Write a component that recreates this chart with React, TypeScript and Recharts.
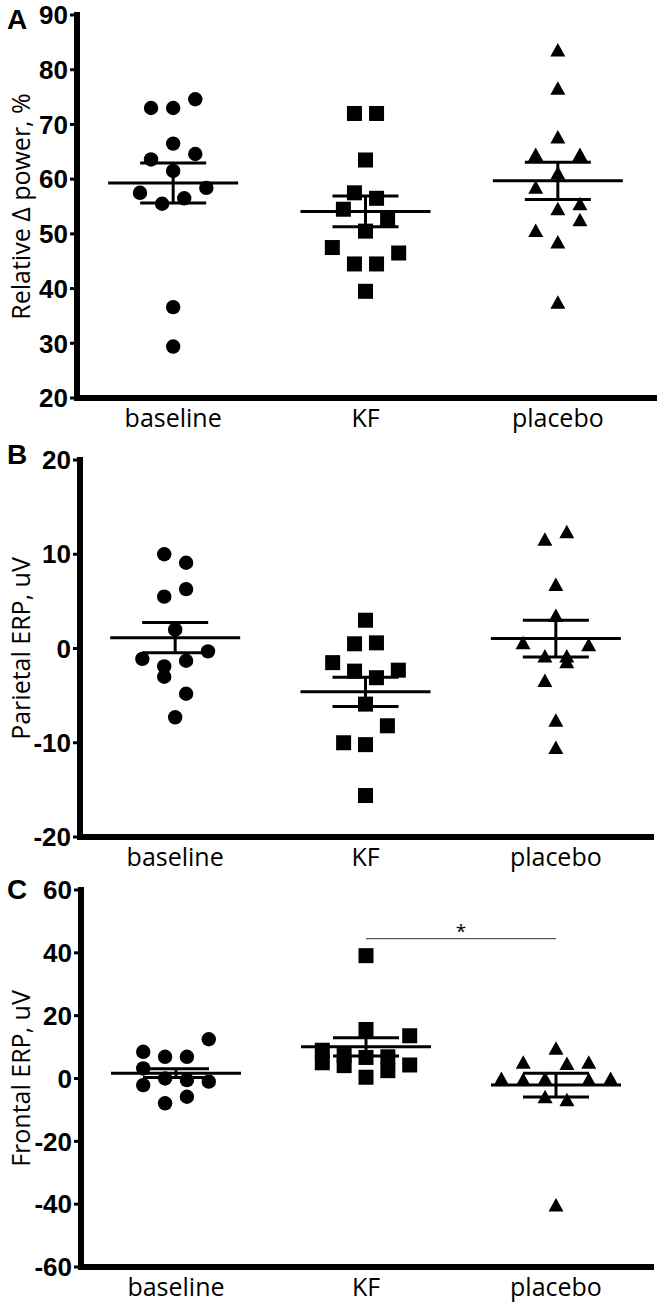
import React from 'react'
import { ScatterChart, Scatter, XAxis, YAxis, ErrorBar, ReferenceLine, ReferenceDot } from 'recharts'

const categories = ['baseline', 'KF', 'placebo']

// A: relative delta power, %
const powerBaseline = [73, 73, 74.6, 66.5, 63.6, 64.6, 61.5, 57.5, 58.4, 55.5, 56.5, 36.6, 29.4]
const powerBaselineCol = [-2, 0, 2, 0, -2, 2, 0, -3, 3, -1, 1, 0, 0]
const powerKF = [72, 72, 63.5, 57.5, 56.5, 54.5, 52.5, 50.5, 47.5, 46.5, 44.5, 44.5, 39.5]
const powerKFCol = [-1, 1, 0, -1, 1, -2, 2, 0, -3, 3, -1, 1, 0]
const powerPlacebo = [83.6, 76.6, 67.7, 64.5, 64.5, 61.1, 58.5, 55.5, 54.6, 52.6, 50.6, 48.5, 37.5]
const powerPlaceboCol = [0, 0, 0, -2, 2, 0, -2, 2, 0, 2, -2, 0, 0]
const powerMean = [59.3, 54.1, 59.7]
const powerSem = [3.65, 2.8, 3.4]
const powerTicks = [20, 30, 40, 50, 60, 70, 80, 90]

// B: parietal ERP, uV
const parietalBaseline = [10.0, 9.1, 6.3, 5.5, 2.0, -0.3, -1.1, -1.3, -1.9, -3.0, -4.8, -7.3]
const parietalBaselineCol = [-1, 1, 1, -1, 0, 3, -3, 1, -1, -1, 1, 0]
const parietalKF = [3.0, 0.5, 0.6, -1.5, -2.4, -2.3, -3.1, -5.9, -8.2, -10.0, -10.2, -15.6]
const parietalKFCol = [0, -1, 1, -3, -1, 3, 1, 0, 2, -2, 0, 0]
const parietalPlacebo = [12.4, 11.6, 6.8, 3.5, 0.6, 0.4, -0.8, -0.8, -1.4, -3.4, -7.6, -10.5]
const parietalPlaceboCol = [1, -1, 0, 0, -3, 3, -1, 1, 1, -1, 0, 0]
const parietalMean = [1.15, -4.6, 1.05]
const parietalSem = [1.6, 1.55, 1.95]
const parietalTicks = [-20, -10, 0, 10, 20]

// C: frontal ERP, uV
const frontalBaseline = [12.5, 8.5, 6.9, 6.9, 3.2, 0.0, -0.5, -1.0, -2.1, -5.8, -7.9]
const frontalBaselineCol = [3, -3, -1, 1, -3, -1, 1, 3, -3, 1, -1]
const frontalKF = [39.1, 15.6, 13.6, 9, 7.3, 6.9, 6.7, 5, 4.3, 4.1, 2.5, 0.4]
const frontalKFCol = [0, 0, 4, -4, -2, 2, 0, -4, 4, -2, 2, 0]
const frontalPlacebo = [9.6, 5.2, 4.8, 5.2, 0.0, -0.3, 0.0, -0.3, 0.0, -5.8, -6.8, -40.3]
const frontalPlaceboCol = [0, -3, 1, 3, -5, -3, -1, 3, 5, -1, 1, 0]
const frontalMean = [1.7, 10.1, -2.1]
const frontalSem = [1.4, 2.9, 3.8]
const frontalTicks = [-60, -40, -20, 0, 20, 40, 60]
const frontalSigLevel = 44.5

const SLOT = 0.0575 // width of one scatter column, in category units

const Dot = (p: any) => <circle cx={p.cx} cy={p.cy} r={7.2} fill="#000" />
const Square = (p: any) => <rect x={p.cx - 7.5} y={p.cy - 7.5} width={15} height={15} fill="#000" />
const Tri = (p: any) => (
  <polygon points={`${p.cx},${p.cy - 7} ${p.cx + 7.5},${p.cy + 6.5} ${p.cx - 7.5},${p.cy + 6.5}`} fill="#000" />
)
const MeanLine = (p: any) => (
  <line x1={p.cx - 65} x2={p.cx + 65} y1={p.cy} y2={p.cy} stroke="#000" strokeWidth={3} />
)
const shapes = [Dot, Square, Tri]

interface PanelProps {
  letter: string
  yLabel: string
  domain: [number, number]
  ticks: number[]
  groups: number[][]
  cols: number[][]
  means: number[]
  sems: number[]
  top: number
  height: number
  marginTop: number
  axisWidth: number
  rightPad: number
  xAxisHeight: number
  letterTop: number
  children?: React.ReactNode
}

function Panel({
  letter, yLabel, domain, ticks, groups, cols, means, sems,
  top, height, marginTop, axisWidth, rightPad, xAxisHeight, letterTop, children
}: PanelProps) {
  const summary = means.map((m, i) => ({ x: i + 0.5, y: m, err: sems[i] }))

  return (
    <div style={{ position: 'absolute', left: 0, top, width: 662, height }}>
      <div
        style={{
          position: 'absolute', left: 7, top: letterTop, fontFamily: 'Liberation Sans',
          fontWeight: 700, fontSize: 28, lineHeight: 1, color: '#000'
        }}
      >
        {letter}
      </div>
      <ScatterChart
        width={662}
        height={height}
        margin={{ top: marginTop, right: rightPad, bottom: 0, left: 0 }}
      >
        <XAxis
          type="number"
          dataKey="x"
          domain={[0, 3]}
          ticks={[0.5, 1.5, 2.5]}
          interval={0}
          height={xAxisHeight}
          tickFormatter={(v: number) => categories[Math.floor(v)]}
          axisLine={{ stroke: '#000', strokeWidth: 6, strokeLinecap: 'square' }}
          tickLine={false}
          tickSize={6}
          tickMargin={5}
          tick={{ fill: '#000', fontSize: 25, fontFamily: 'Open Sans' }}
        />
        <YAxis
          type="number"
          dataKey="y"
          domain={domain}
          ticks={ticks}
          interval={0}
          width={axisWidth}
          axisLine={{ stroke: '#000', strokeWidth: 6, strokeLinecap: 'square' }}
          tickLine={{ stroke: '#000', strokeWidth: 3 }}
          tickSize={7}
          tickMargin={2}
          tick={{ fill: '#000', fontSize: 26, fontWeight: 700, fontFamily: 'Liberation Sans' }}
          label={{
            content: (props: any) => {
              const vb = props.viewBox
              const cy = vb.y + vb.height / 2
              return (
                <text
                  x={30}
                  y={cy}
                  transform={`rotate(-90 30 ${cy})`}
                  textAnchor="middle"
                  fontSize={25}
                  fontFamily="Open Sans"
                  fill="#000"
                >
                  {yLabel}
                </text>
              )
            }
          }}
        />
        {groups.map((vals, i) => (
          <Scatter
            key={categories[i]}
            data={vals.map((v, k) => ({ x: i + 0.5 + cols[i][k] * SLOT, y: v }))}
            shape={shapes[i]}
            isAnimationActive={false}
          />
        ))}
        <Scatter data={summary} shape={MeanLine} isAnimationActive={false}>
          <ErrorBar dataKey="err" direction="y" width={33} stroke="#000" strokeWidth={3} />
        </Scatter>
        {children}
      </ScatterChart>
    </div>
  )
}

export default function App() {
  return (
    <div style={{ position: 'absolute', left: 0, top: 0, width: 662, height: 1308, background: '#fff' }}>
      <Panel
        letter="A"
        yLabel="Relative Δ power, %"
        domain={[20, 90]}
        ticks={powerTicks}
        groups={[powerBaseline, powerKF, powerPlacebo]}
        cols={[powerBaselineCol, powerKFCol, powerPlaceboCol]}
        means={powerMean}
        sems={powerSem}
        top={0}
        height={440}
        marginTop={15}
        axisWidth={77}
        rightPad={8}
        xAxisHeight={42}
        letterTop={6}
      />
      <Panel
        letter="B"
        yLabel="Parietal ERP, uV"
        domain={[-20, 20]}
        ticks={parietalTicks}
        groups={[parietalBaseline, parietalKF, parietalPlacebo]}
        cols={[parietalBaselineCol, parietalKFCol, parietalPlaceboCol]}
        means={parietalMean}
        sems={parietalSem}
        top={440}
        height={440}
        marginTop={20}
        axisWidth={80}
        rightPad={11}
        xAxisHeight={43}
        letterTop={1}
      />
      <Panel
        letter="C"
        yLabel="Frontal ERP, uV"
        domain={[-60, 60]}
        ticks={frontalTicks}
        groups={[frontalBaseline, frontalKF, frontalPlacebo]}
        cols={[frontalBaselineCol, frontalKFCol, frontalPlaceboCol]}
        means={frontalMean}
        sems={frontalSem}
        top={870}
        height={438}
        marginTop={20}
        axisWidth={81}
        rightPad={11}
        xAxisHeight={41}
        letterTop={6}
      >
        <ReferenceLine
          segment={[{ x: 1.5, y: frontalSigLevel }, { x: 2.5, y: frontalSigLevel }]}
          stroke="#333"
          strokeWidth={1}
        />
        <ReferenceDot
          x={2}
          y={frontalSigLevel}
          r={0}
          fill="none"
          stroke="none"
          label={{ value: '*', position: 'top', offset: 1, fontSize: 19, fontFamily: 'Open Sans', fill: '#000' }}
        />
      </Panel>
    </div>
  )
}
